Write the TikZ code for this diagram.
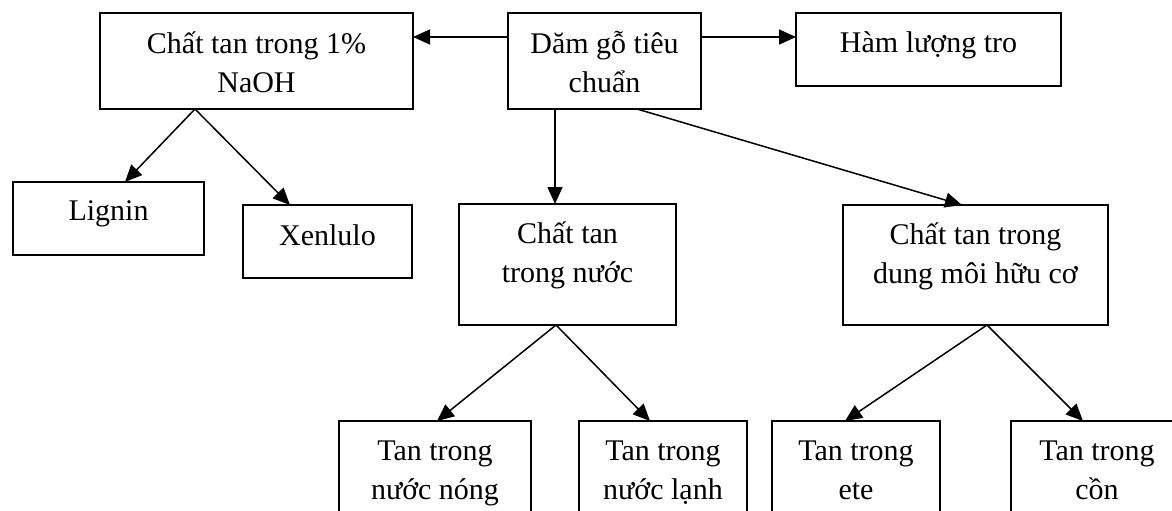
\documentclass[tikz,border=0pt]{standalone}
\usepackage{fontspec}
\setmainfont{Liberation Serif}
\usetikzlibrary{arrows.meta,calc}
\begin{document}
\begin{tikzpicture}[x=1pt,y=-1pt,
  box/.style={draw=black,line width=1.4pt,inner sep=0pt,outer sep=0pt},
  txt/.style={anchor=north,align=center,inner sep=0pt,font=\fontsize{30}{39}\selectfont},
  arr/.style={line width=1.5pt,-{Triangle[length=17pt,width=15pt]}}]
\clip (0,0) rectangle (1172,511);
\fill[white] (0,0) rectangle (1172,511);
% boxes
\node[box,minimum width=313pt,minimum height=96pt] (naoh) at (256.5,61) {};
\node[box,minimum width=193pt,minimum height=96pt] (dam) at (604.5,61) {};
\node[box,minimum width=265pt,minimum height=73pt] (ham) at (928.5,49.5) {};
\node[box,minimum width=191pt,minimum height=73pt] (lignin) at (108.5,218.5) {};
\node[box,minimum width=169pt,minimum height=73pt] (xen) at (327.5,241.5) {};
\node[box,minimum width=217pt,minimum height=121pt] (nuoc) at (567.5,264.5) {};
\node[box,minimum width=265pt,minimum height=120pt] (dm) at (975.5,265) {};
\node[box,minimum width=192pt,minimum height=110pt] (nong) at (435,476) {};
\node[box,minimum width=168pt,minimum height=110pt] (lanh) at (663,476) {};
\node[box,minimum width=168pt,minimum height=110pt] (ete) at (856,476) {};
\node[box,minimum width=172pt,minimum height=110pt] (con) at (1097,476) {};
% texts
\node[txt] (naohT) at ([yshift=-9pt]naoh.north) {\rule{0pt}{31pt}Chất tan trong 1\%\\NaOH};
\node[txt] (damT) at ([yshift=-9pt]dam.north) {\rule{0pt}{31pt}Dăm gỗ tiêu\\chuẩn};
\node[txt] (hamT) at ([yshift=-8pt]ham.north) {\rule{0pt}{31pt}Hàm lượng tro};
\node[txt] (ligninT) at ([yshift=-7pt]lignin.north) {\rule{0pt}{31pt}Lignin};
\node[txt] (xenT) at ([yshift=-9pt]xen.north) {\rule{0pt}{31pt}Xenlulo};
\node[txt] (nuocT) at ([yshift=-8pt]nuoc.north) {\rule{0pt}{31pt}Chất tan\\trong nước};
\node[txt] (dmT) at ([yshift=-8pt]dm.north) {\rule{0pt}{31pt}Chất tan trong\\dung môi hữu cơ};
\node[txt] (nongT) at ([yshift=-8pt]nong.north) {\rule{0pt}{31pt}Tan trong\\nước nóng};
\node[txt] (lanhT) at ([yshift=-8pt]lanh.north) {\rule{0pt}{31pt}Tan trong\\nước lạnh};
\node[txt] (eteT) at ([yshift=-8pt]ete.north) {\rule{0pt}{31pt}Tan trong\\ete};
\node[txt] (conT) at ([yshift=-8pt]con.north) {\rule{0pt}{31pt}Tan trong\\cồn};
% arrows
\draw[arr] ([yshift=24pt]dam.west) -- ([yshift=24pt]naoh.east);
\draw[arr] ([yshift=24pt]dam.east) -- ([yshift=12.5pt]ham.west);
\draw[arr] ([xshift=47pt]dam.south west) -- ([xshift=96pt]nuoc.north west);
\draw[arr] ([xshift=129pt]dam.south west) -- ([xshift=119pt]dm.north west);
\draw[arr] ([xshift=95pt]naoh.south west) -- ([xshift=16.5pt]lignin.north);
\draw[arr] ([xshift=95pt]naoh.south west) -- ([xshift=-37.5pt]xen.north);
\draw[arr] ([xshift=-11.5pt]nuoc.south) -- ([xshift=2pt]nong.north);
\draw[arr] ([xshift=-11.5pt]nuoc.south) -- ([xshift=-13pt]lanh.north);
\draw[arr] ([xshift=11.5pt]dm.south) -- ([xshift=-11pt]ete.north);
\draw[arr] ([xshift=11.5pt]dm.south) -- ([xshift=-14pt]con.north);
\end{tikzpicture}
\end{document}
